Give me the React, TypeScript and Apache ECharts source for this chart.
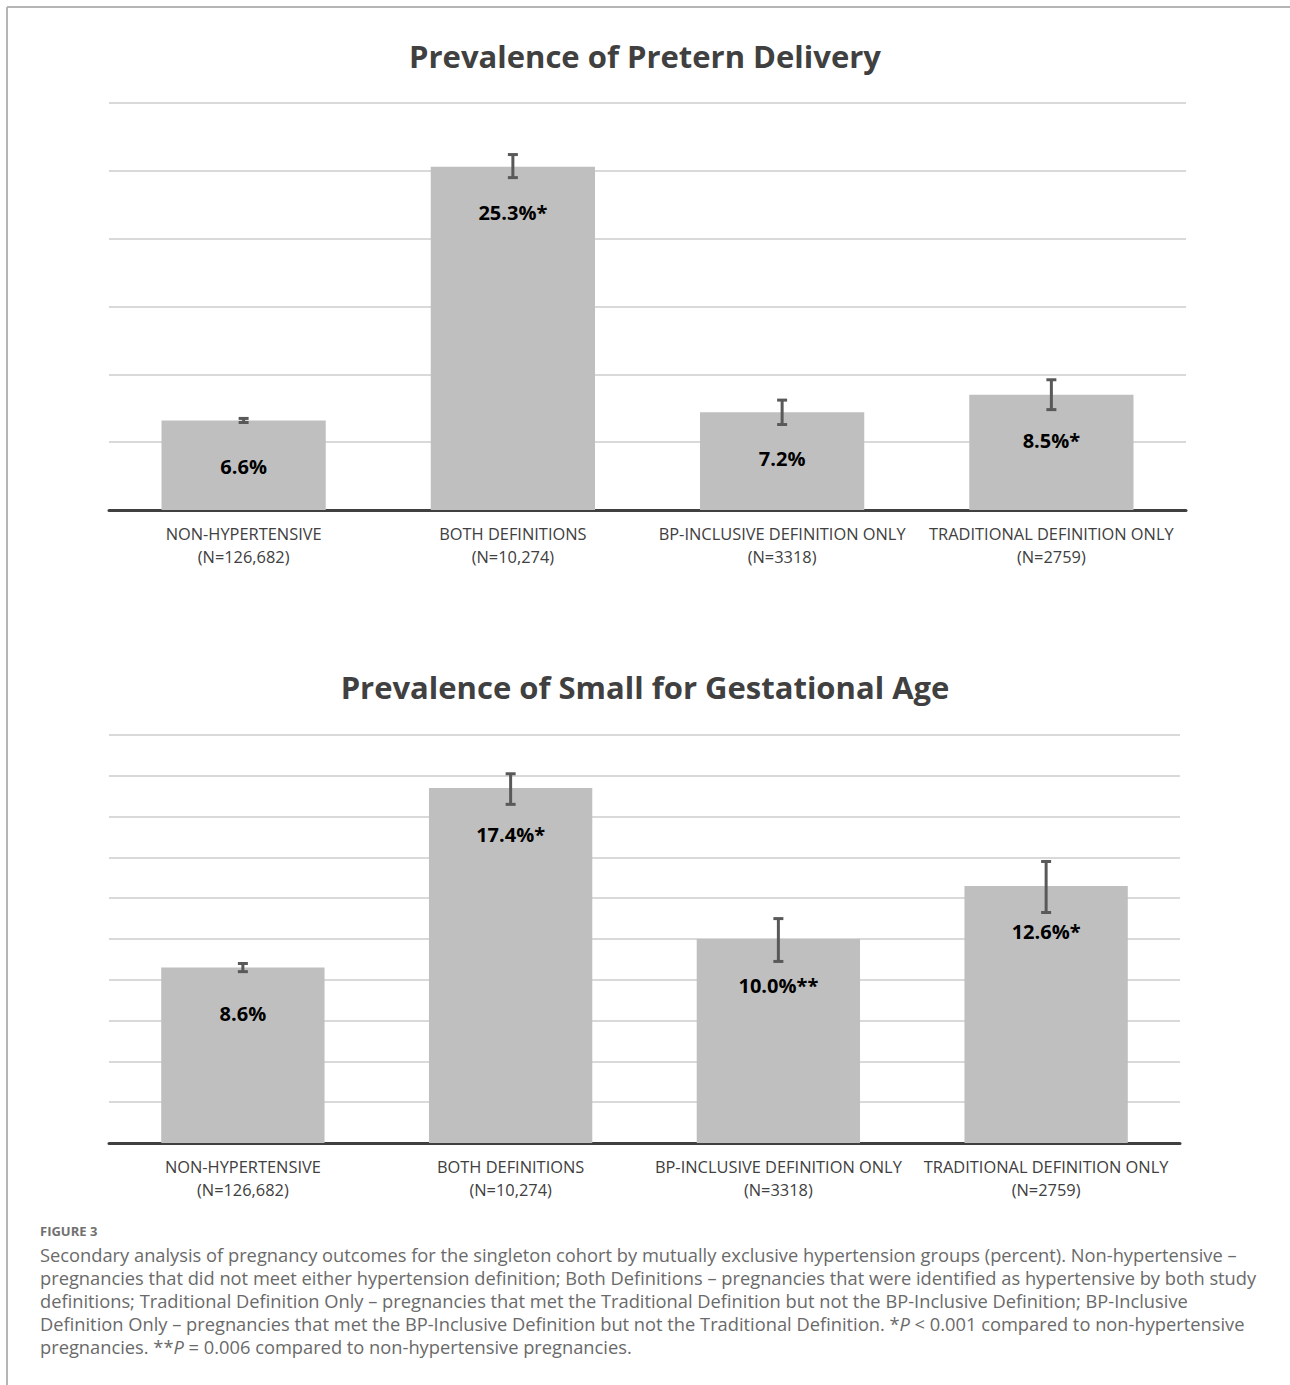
import React, { useEffect, useRef } from "react";
import * as echarts from "echarts";

const categories = [
  "NON-HYPERTENSIVE",
  "BOTH DEFINITIONS",
  "BP-INCLUSIVE DEFINITION ONLY",
  "TRADITIONAL DEFINITION ONLY",
];
const groupSizes = ["(N=126,682)", "(N=10,274)", "(N=3318)", "(N=2759)"];

const pretermTitle = "Prevalence of Pretern Delivery";
const pretermValues = [6.6, 25.3, 7.2, 8.5];
const pretermLow = [6.45, 24.5, 6.3, 7.4];
const pretermHigh = [6.75, 26.2, 8.1, 9.6];
const pretermMarks = ["", "*", "", "*"];
const pretermAxis = { min: 0, max: 30, interval: 5 };

const sgaTitle = "Prevalence of Small for Gestational Age";
const sgaValues = [8.6, 17.4, 10.0, 12.6];
const sgaLow = [8.4, 16.6, 8.9, 11.3];
const sgaHigh = [8.8, 18.1, 11.0, 13.8];
const sgaMarks = ["", "*", "**", "*"];
const sgaAxis = { min: 0, max: 20, interval: 2 };

const figureLabel = "FIGURE 3";
const captionLines = [
  "Secondary analysis of pregnancy outcomes for the singleton cohort by mutually exclusive hypertension groups (percent). Non-hypertensive –",
  "pregnancies that did not meet either hypertension definition; Both Definitions – pregnancies that were identified as hypertensive by both study",
  "definitions; Traditional Definition Only – pregnancies that met the Traditional Definition but not the BP-Inclusive Definition; BP-Inclusive",
  "Definition Only – pregnancies that met the BP-Inclusive Definition but not the Traditional Definition. *{i|P} < 0.001 compared to non-hypertensive",
  "pregnancies. **{i|P} = 0.006 compared to non-hypertensive pregnancies.",
];

const FONT = "'Open Sans', 'DejaVu Sans', sans-serif";
const BAR_COLOR = "#BFBFBF";
const ERR_COLOR = "#595959";

function errorRender(params: any, api: any) {
  const x = api.value(0);
  const lo = api.coord([x, api.value(1)]);
  const hi = api.coord([x, api.value(2)]);
  const half = 5;
  const style = { stroke: ERR_COLOR, lineWidth: 3 };
  return {
    type: "group",
    children: [
      { type: "line", shape: { x1: lo[0], y1: lo[1], x2: hi[0], y2: hi[1] }, style },
      { type: "line", shape: { x1: lo[0] - half, y1: lo[1], x2: lo[0] + half, y2: lo[1] }, style },
      { type: "line", shape: { x1: hi[0] - half, y1: hi[1], x2: hi[0] + half, y2: hi[1] }, style },
    ],
  };
}

function makeAxes(gridIndex: number, axis: { min: number; max: number; interval: number }) {
  const x = {
    type: "category",
    gridIndex,
    data: categories,
    axisTick: { show: false },
    axisLine: { lineStyle: { color: "#404040", width: 3 } },
    axisLabel: {
      interval: 0,
      margin: 12,
      color: "#404040",
      fontSize: 16.4,
      lineHeight: 23,
      fontFamily: FONT,
      formatter: (v: string, i: number) => v + "\n" + groupSizes[i],
    },
  };
  const y = {
    type: "value",
    gridIndex,
    min: axis.min,
    max: axis.max,
    interval: axis.interval,
    axisLabel: { show: false },
    axisLine: { show: false },
    axisTick: { show: false },
    splitLine: { lineStyle: { color: "#D9D9D9", width: 2 } },
  };
  return { x, y };
}

function makeSeries(idx: number, values: number[], low: number[], high: number[], marks: string[]) {
  return [
    {
      type: "bar",
      xAxisIndex: idx,
      yAxisIndex: idx,
      data: values,
      barWidth: "61%",
      itemStyle: { color: BAR_COLOR },
      label: {
        show: true,
        position: "insideTop",
        distance: 36,
        color: "#000000",
        fontSize: 20,
        fontWeight: "bold",
        fontFamily: FONT,
        formatter: (p: any) => p.value.toFixed(1) + "%" + marks[p.dataIndex],
      },
      z: 2,
    },
    {
      type: "custom",
      xAxisIndex: idx,
      yAxisIndex: idx,
      renderItem: errorRender,
      encode: { x: 0, y: [1, 2] },
      data: values.map((_, i) => [i, low[i], high[i]]),
      z: 3,
    },
  ];
}

export default function App() {
  const ref = useRef<HTMLDivElement>(null);
  useEffect(() => {
    if (!ref.current) return;
    const chart = echarts.init(ref.current, undefined, { renderer: "svg" });
    const a0 = makeAxes(0, pretermAxis);
    const a1 = makeAxes(1, sgaAxis);
    const captionStyle = { fontSize: 18.3, fontFamily: FONT, fill: "#6a6a6a" };
    const graphics: any[] = [
      { type: "line", shape: { x1: 7, y1: 7, x2: 1290, y2: 7 }, style: { stroke: "#b5b5b5", lineWidth: 2 } },
      { type: "line", shape: { x1: 7, y1: 7, x2: 7, y2: 1385 }, style: { stroke: "#b5b5b5", lineWidth: 2 } },
      {
        type: "text",
        x: 40,
        y: 1231,
        style: {
          text: figureLabel,
          fontSize: 13,
          fontWeight: "bold",
          fontFamily: FONT,
          fill: "#707070",
          verticalAlign: "middle",
        },
      },
    ];
    captionLines.forEach((line, i) => {
      graphics.push({
        type: "text",
        x: 40,
        y: 1254 + i * 23,
        style: {
          text: line,
          ...captionStyle,
          verticalAlign: "middle",
          rich: {
            i: { ...captionStyle, fontStyle: "italic" },
          },
        },
      });
    });
    chart.setOption({
      animation: false,
      backgroundColor: "#ffffff",
      title: [
        {
          text: pretermTitle,
          left: "center",
          top: 35,
          textStyle: { fontSize: 31, fontWeight: "bold", color: "#404040", fontFamily: FONT },
        },
        {
          text: sgaTitle,
          left: "center",
          top: 666,
          textStyle: { fontSize: 31, fontWeight: "bold", color: "#404040", fontFamily: FONT },
        },
      ],
      grid: [
        { left: 109, right: 104, top: 103, height: 407 },
        { left: 109, right: 110, top: 735, height: 408 },
      ],
      xAxis: [a0.x, a1.x],
      yAxis: [a0.y, a1.y],
      series: [
        ...makeSeries(0, pretermValues, pretermLow, pretermHigh, pretermMarks),
        ...makeSeries(1, sgaValues, sgaLow, sgaHigh, sgaMarks),
      ],
      graphic: graphics,
    });
    return () => chart.dispose();
  }, []);
  return (
    <div
      ref={ref}
      style={{ position: "absolute", left: 0, top: 0, width: 1290, height: 1385 }}
    />
  );
}
